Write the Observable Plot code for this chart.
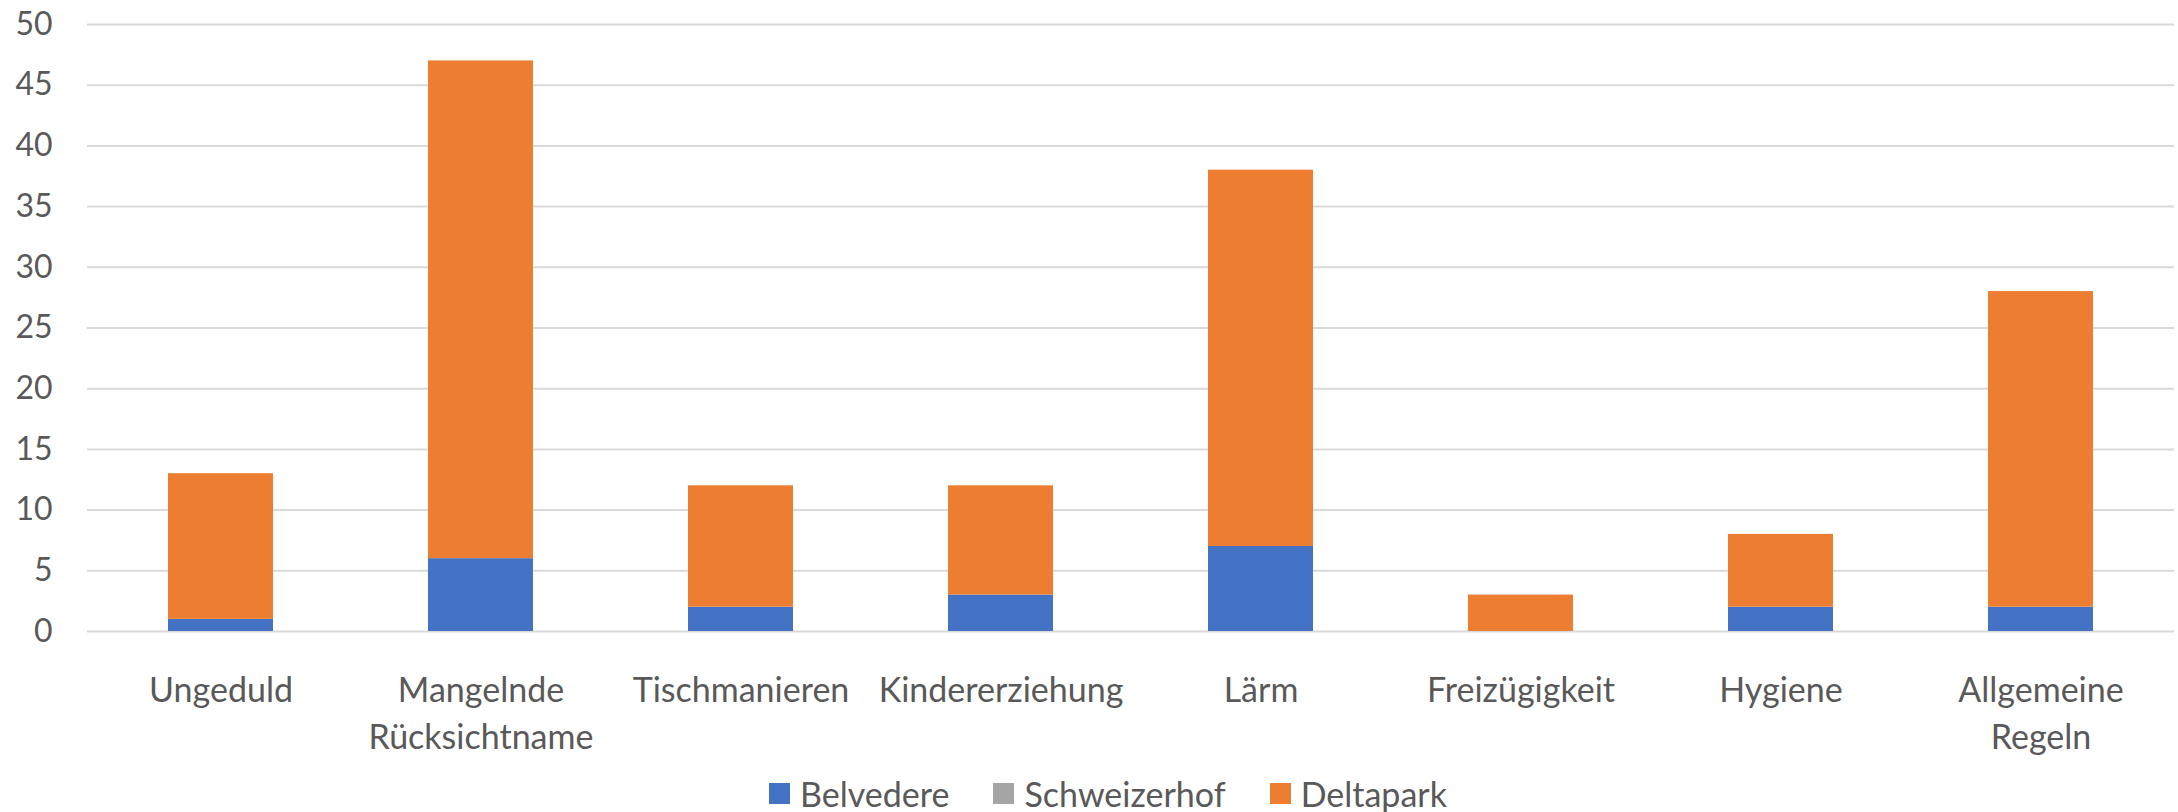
<!DOCTYPE html>
<html>
<head>
<meta charset="utf-8">
<script src="https://cdn.jsdelivr.net/npm/d3@7"></script>
<script src="https://cdn.jsdelivr.net/npm/@observablehq/plot@0.6"></script>
<style>
  html, body { margin: 0; padding: 0; background: #fff; }
  body { width: 2178px; height: 812px; overflow: hidden; font-family: Lato, "Open Sans", sans-serif; color: #595959; }
  #chart svg { display: block; }
  #legend { display: flex; justify-content: center; align-items: center; height: 46px; padding-left: 38px; font-size: 34px; }
  #legend .item { display: flex; align-items: center; margin: 0 22px; }
  #legend .sw { width: 21px; height: 21px; margin-right: 10px; }
</style>
</head>
<body>
<div id="chart"></div>
<div id="legend"></div>
<script>
const categories = ["Ungeduld", "Mangelnde Rücksichtname", "Tischmanieren", "Kindererziehung", "Lärm", "Freizügigkeit", "Hygiene", "Allgemeine Regeln"];
const seriesNames = ["Belvedere", "Schweizerhof", "Deltapark"];
const belvedere = [1, 6, 2, 3, 7, 0, 2, 2];
const schweizerhof = [0, 0, 0, 0, 0, 0, 0, 0];
const deltapark = [12, 41, 10, 9, 31, 3, 6, 26];
const yTicks = [0, 5, 10, 15, 20, 25, 30, 35, 40, 45, 50];
const colors = ["#4472C4", "#A5A5A5", "#ED7D31"];

const valuesBySeries = [belvedere, schweizerhof, deltapark];
const data = [];
seriesNames.forEach((s, si) => {
  categories.forEach((c, ci) => {
    data.push({category: c, series: s, value: valuesBySeries[si][ci]});
  });
});

const chart = Plot.plot({
  width: 2178,
  height: 770,
  marginLeft: 87,
  marginRight: 4,
  marginTop: 24,
  marginBottom: 139,
  style: {fontFamily: "Lato, 'Open Sans', sans-serif", fontSize: "34px", color: "#595959", background: "#fff"},
  x: {domain: categories, paddingInner: 0.595, paddingOuter: 0.2975, label: null},
  y: {domain: [0, 50], label: null},
  color: {domain: seriesNames, range: colors},
  marks: [
    Plot.ruleY(yTicks, {stroke: "#D9D9D9", strokeWidth: 2}),
    Plot.barY(data, Plot.stackY({x: "category", y: "value", fill: "series", order: seriesNames})),
    Plot.axisY(yTicks, {tickSize: 0, tickPadding: 35, label: null, fontSize: 32}),
    Plot.axisX({tickSize: 0, tickPadding: 37, label: null, fontSize: 34, lineHeight: 1.38,
      tickFormat: d => d.replace(" ", "\n")})
  ]
});
document.getElementById("chart").appendChild(chart);

const legend = document.getElementById("legend");
seriesNames.forEach((s, i) => {
  const item = document.createElement("div");
  item.className = "item";
  const sw = document.createElement("div");
  sw.className = "sw";
  sw.style.background = colors[i];
  const label = document.createElement("span");
  label.textContent = s;
  item.appendChild(sw);
  item.appendChild(label);
  legend.appendChild(item);
});
</script>
</body>
</html>
